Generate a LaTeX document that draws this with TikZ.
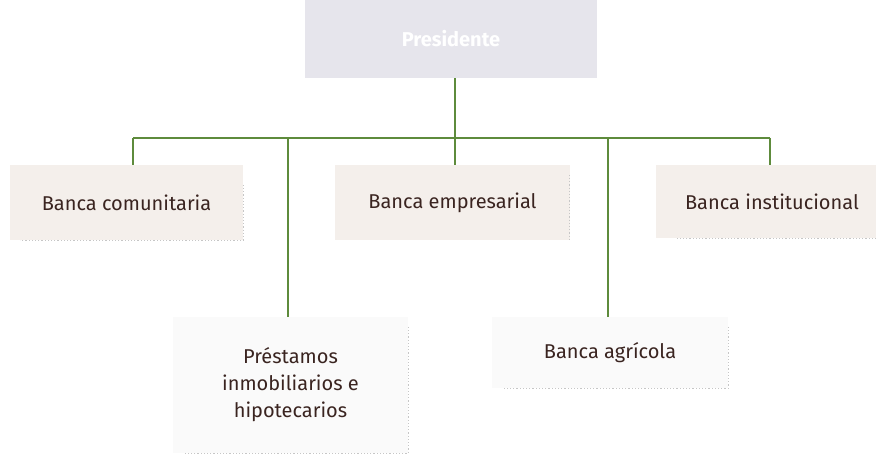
\documentclass[tikz,border=0pt]{standalone}
\usepackage{fontspec}
\setmainfont{Fira Sans}
\begin{document}
\begin{tikzpicture}[x=1pt,y=-1pt,
  beigebox/.style={font=\fontsize{20}{24}\selectfont\addfontfeature{Weight=300}, align=center, inner sep=0pt},
  whitebox/.style={font=\fontsize{20}{27}\selectfont\addfontfeature{Weight=300}, align=center, inner sep=0pt},
  shade/.style={draw=gray!45, dotted, line width=1.2pt},
  conn/.style={draw=linegreen, line width=1.6pt}
]
\definecolor{linegreen}{HTML}{5E8B3C}
\definecolor{txt}{HTML}{3A2420}
\definecolor{presfill}{HTML}{E6E5EC}
\definecolor{beige}{HTML}{F4EFEB}
\useasboundingbox (0,0) rectangle (876,457);
% President
\node[fill=presfill, minimum width=292pt, minimum height=78pt, inner sep=0pt, text=white, font=\fontsize{20}{24}\selectfont\bfseries] (pres) at (451,39) {Presidente};
% Level boxes
\node[beigebox, fill=beige, text=txt, minimum width=233pt, minimum height=75pt] (bc) at (126.5,202.5) {Banca comunitaria};
\node[beigebox, fill=beige, text=txt, minimum width=235pt, minimum height=75pt] (be) at (452.5,202.5) {Banca empresarial};
\node[beigebox, fill=beige, text=txt, minimum width=232pt, minimum height=73pt] (bi) at (772,201.5) {Banca institucional};
\node[whitebox, fill=gray!4, text=txt, minimum width=235pt, minimum height=136pt] (pr) at (290.5,385) {Préstamos\\inmobiliarios e\\hipotecarios};
\node[whitebox, fill=gray!4, text=txt, minimum width=236pt, minimum height=71pt] (ba) at (610,352.5) {Banca agrícola};
% shadows
\draw[shade] (pr.north east) ++(0,10) -- (pr.south east) -- ++(-225,0);
\draw[shade] (ba.north east) ++(0,10) -- (ba.south east) -- ++(-226,0);
\draw[shade] (bc.north east) ++(0,20) -- (bc.south east) -- ++(-223,0);
\draw[shade] (be.north east) ++(-1,10) -- ([xshift=-1pt]be.south east);
\draw[shade] ([xshift=-12pt]bi.south east) -- ++(-200,0);
% connectors
\coordinate (hub) at (455,138);
\coordinate (hl) at (133,138);
\coordinate (hr) at (770,138);
\coordinate (hp) at (288,138);
\coordinate (ha) at (608,138);
\draw[conn] (pres.south -| hub) -- (hub);
\draw[conn] (hl) -- (hr);
\draw[conn] (hl) -- (hl |- bc.north);
\draw[conn] (hp) -- (hp |- pr.north);
\draw[conn] (hub) -- (hub |- be.north);
\draw[conn] (ha) -- (ha |- ba.north);
\draw[conn] (hr) -- (hr |- bi.north);
\end{tikzpicture}
\end{document}
